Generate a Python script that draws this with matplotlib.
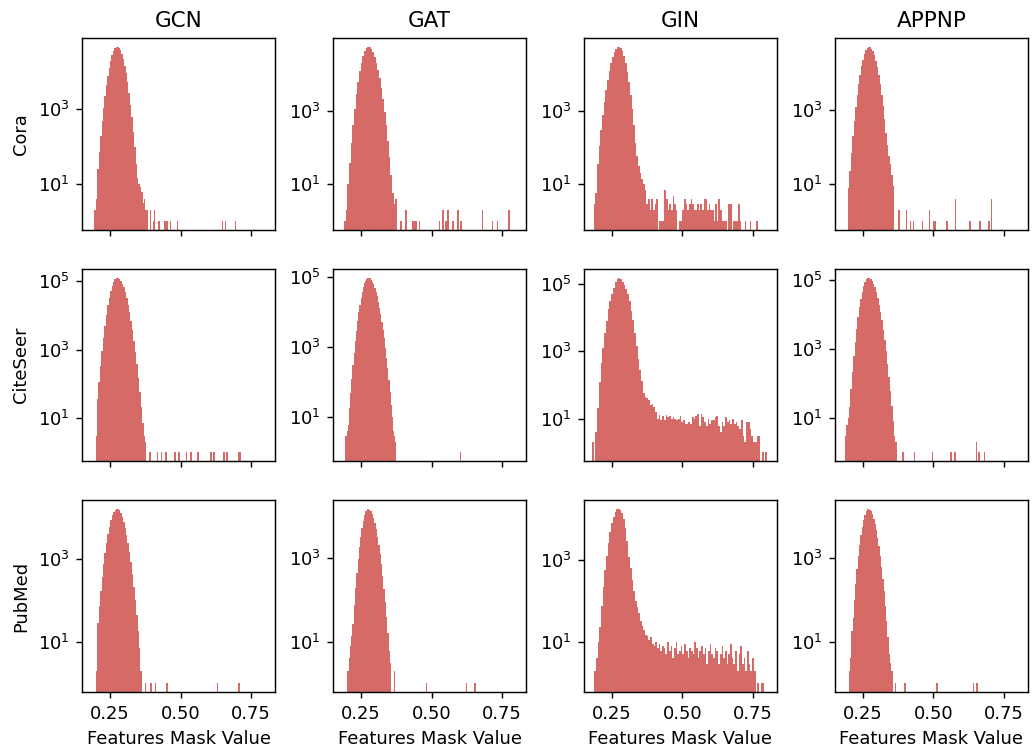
import numpy as np
import matplotlib
matplotlib.use("Agg")
import matplotlib.pyplot as plt
from matplotlib.ticker import NullLocator

models = ["GCN", "GAT", "GIN", "APPNP"]
datasets = ["Cora", "CiteSeer", "PubMed"]
n_bins = 100

# range of the mask values in each panel (rows: datasets, cols: models)
mask_min = [[0.195, 0.190, 0.186, 0.197],
            [0.199, 0.195, 0.1794, 0.186],
            [0.200, 0.2017, 0.187, 0.200]]
mask_max = [[0.697, 0.778, 0.767, 0.709],
            [0.714, 0.606, 0.800, 0.684],
            [0.709, 0.658, 0.789, 0.657]]

# bin counts, main body from bin 0, sparse tail as {bin: count}
cora_gcn = [2, 4, 25, 70, 186, 460, 1050, 2240, 4300, 7600, 12600, 19000, 26600, 34700, 40900,
            45000, 45500, 42500, 36400, 28800, 21100, 14200, 8900, 5100, 2700, 1290, 590, 245, 93,
            33, 14, 10, 8, 6, 3, 4, 2, 2]
cora_gcn_tail = {39: 2, 41: 1, 42: 2, 45: 1, 49: 1, 50: 1, 51: 1, 53: 1, 58: 1, 90: 1, 92: 1, 99: 1}

cora_gat = [1, 2, 10, 39, 135, 420, 1150, 2800, 6100, 11800, 20400, 31300, 42500, 51000, 55000,
            53000, 47300, 38900, 29300, 20300, 12900, 7600, 4150, 2060, 950, 400, 155, 55, 18, 6, 3, 4]
cora_gat_tail = {34: 1, 37: 2, 41: 1, 42: 1, 43: 1, 45: 1, 57: 1, 59: 2, 61: 1, 62: 2, 65: 1,
                 68: 2, 70: 1, 83: 2, 89: 1, 92: 1, 99: 2}

cora_gin = [3, 6, 36, 110, 300, 760, 1740, 3630, 6900, 12300, 19500, 28800, 38900, 47700, 53700,
            55000, 50500, 41500, 30400, 19700, 11400, 5900, 2700, 1100, 400, 130, 60, 32, 20, 14, 10, 7]
cora_gin_tail = {32: 3, 33: 4, 34: 2, 35: 4, 36: 2, 37: 3, 38: 4, 40: 1, 41: 1, 42: 1, 43: 7, 44: 4,
                 45: 2, 46: 3, 47: 2, 48: 5, 49: 3, 50: 2, 52: 1, 53: 1, 54: 2, 55: 4, 56: 3, 57: 2,
                 58: 3, 59: 4, 60: 3, 61: 2, 62: 2, 63: 3, 64: 2, 65: 3, 66: 2, 67: 4, 68: 4, 69: 2,
                 70: 3, 71: 2, 72: 2, 73: 1, 74: 3, 75: 1, 76: 4, 77: 2, 78: 1, 79: 1, 80: 1, 82: 3,
                 83: 3, 85: 1, 86: 1, 87: 1, 88: 3, 89: 1, 92: 1, 95: 1, 99: 1}

cora_appnp = [8, 22, 69, 190, 490, 1150, 2450, 4900, 8700, 14400, 21900, 30400, 38900, 45700, 49000,
              48000, 43700, 36900, 28700, 20600, 13700, 8400, 4800, 2500, 1230, 550, 230, 110, 55, 35,
              18, 9]
cora_appnp_tail = {35: 2, 40: 2, 43: 1, 45: 1, 51: 1, 56: 2, 59: 1, 60: 1, 68: 1, 74: 4, 84: 1,
                   91: 1, 97: 1, 99: 4}

citeseer_gcn = [3, 35, 115, 340, 910, 2240, 5000, 10200, 19300, 33000, 51500, 74000, 96000, 114000,
                125000, 125000, 117000, 102000, 84000, 65000, 47000, 32000, 20500, 12300, 6900, 3650,
                1800, 850, 370, 150, 58, 21, 7, 3, 2]
citeseer_gcn_tail = {37: 1, 42: 1, 45: 1, 48: 1, 54: 1, 57: 1, 62: 1, 65: 1, 70: 1, 79: 1, 81: 1,
                     88: 1, 90: 1, 98: 1, 99: 1}

citeseer_gat = [3, 4, 6, 18, 49, 126, 300, 690, 1480, 2950, 5500, 9800, 16200, 25100, 37000, 50000,
                65000, 78000, 89000, 95000, 95000, 91000, 83000, 73000, 61000, 49500, 38000, 28000,
                19700, 13300, 8600, 5300, 3100, 1770, 950, 500, 245, 117, 54, 23, 10, 4, 3, 2]
citeseer_gat_tail = {99: 1}

citeseer_gin = [2, 0, 4, 20, 125, 450, 1260, 3550, 7900, 17800, 31600, 50000, 76000, 110000, 135000,
                151000, 135000, 115000, 91000, 71000, 50000, 30000, 16000, 8300, 3550, 1400, 590, 280,
                130, 59, 43, 40, 35, 25, 27, 22, 16, 10, 13, 9,
                12, 9, 13, 11, 12, 10, 11, 10, 9, 10, 12, 8, 9, 7, 7, 8, 7, 11, 10, 12, 14, 6, 14, 11,
                8, 6, 10, 7, 9, 9, 11, 12, 6, 4, 8, 6, 11, 8, 9, 7, 10, 7, 8, 6, 5, 9, 3,
                2, 8, 8, 5, 3, 2, 2, 3, 3, 0, 1, 0, 1]
citeseer_gin_tail = {}

citeseer_appnp = [3, 6, 10, 20, 69, 220, 630, 1620, 3900, 8300, 16200, 28600, 45500, 67000, 89000,
                  107000, 117000, 116000, 108000, 95000, 78500, 61000, 44000, 30400, 19300, 11700,
                  6700, 3550, 1780, 850, 375, 155, 60, 22, 8, 3, 2]
citeseer_appnp_tail = {41: 1, 49: 1, 62: 1, 75: 1, 78: 1, 93: 2, 95: 1, 99: 1}

pubmed_gcn = [2, 29, 72, 170, 370, 740, 1410, 2450, 4000, 6000, 8500, 11200, 13600, 15400, 16200,
              15800, 14700, 12700, 10400, 7900, 5700, 3850, 2450, 1470, 830, 435, 215, 100, 45, 18, 7]
pubmed_gcn_tail = {31: 2, 34: 1, 38: 1, 41: 1, 49: 1, 84: 1, 99: 1}

pubmed_gat = [2, 4, 8, 14, 27, 76, 195, 455, 980, 1900, 3300, 5400, 8000, 10800, 13400, 15000, 15500,
              14800, 13400, 11400, 9200, 6900, 4950, 3300, 2100, 1260, 710, 370, 185, 87, 39, 16, 6, 3]
pubmed_gat_tail = {36: 2, 61: 1, 92: 1, 98: 1, 99: 1}

pubmed_gin = [2, 4, 10, 23, 76, 220, 550, 1260, 2570, 4700, 7700, 11200, 14500, 16700, 17400, 16200,
              13800, 10000, 6000, 2800, 1200, 630, 316, 178, 100, 71, 50, 33, 25, 20, 15, 14, 11, 13,
              9, 8, 10, 7, 9, 6, 8, 7, 5, 10, 6, 8, 4, 7, 10, 5, 6, 8, 5, 9, 6, 4, 7, 6, 5, 10, 7, 4,
              6, 8, 5, 7, 3, 6, 9, 5, 4, 7, 6, 3, 5, 8, 4, 6, 3, 5, 9, 4, 3, 6, 2, 5, 8, 3, 4, 2, 6,
              3, 2, 4, 2, 0, 1, 0, 1, 1]
pubmed_gin_tail = {}

pubmed_appnp = [2, 4, 18, 37, 100, 245, 540, 1120, 2100, 3630, 5750, 8300, 11000, 13500, 15100,
                15500, 14800, 13300, 11300, 9000, 6700, 4750, 3150, 1950, 1150, 630, 325, 160, 72, 31,
                13, 5, 3, 2]
pubmed_appnp_tail = {36: 1, 43: 1, 68: 1, 96: 1, 99: 1}

bodies = [[cora_gcn, cora_gat, cora_gin, cora_appnp],
          [citeseer_gcn, citeseer_gat, citeseer_gin, citeseer_appnp],
          [pubmed_gcn, pubmed_gat, pubmed_gin, pubmed_appnp]]
tails = [[cora_gcn_tail, cora_gat_tail, cora_gin_tail, cora_appnp_tail],
         [citeseer_gcn_tail, citeseer_gat_tail, citeseer_gin_tail, citeseer_appnp_tail],
         [pubmed_gcn_tail, pubmed_gat_tail, pubmed_gin_tail, pubmed_appnp_tail]]
row_yticks = [[1e1, 1e3], [1e1, 1e3, 1e5], [1e1, 1e3]]

bar_color = "#d56a67"

fig, axes = plt.subplots(3, 4, figsize=(1032 / 129, 749 / 129), dpi=129, sharex=True)
fig.subplots_adjust(left=0.0795, right=0.9961, top=0.9493, bottom=0.0761, wspace=0.30, hspace=0.203)

for r in range(3):
    for c in range(4):
        ax = axes[r][c]
        counts = np.zeros(n_bins)
        body = bodies[r][c]
        counts[:len(body)] = body
        for b, v in tails[r][c].items():
            counts[b] = v
        edges = np.linspace(mask_min[r][c], mask_max[r][c], n_bins + 1)
        # no antialiasing so neighbouring bars join without seams
        ax.bar(edges[:-1], counts, width=np.diff(edges), align="edge",
               color=bar_color, linewidth=0, antialiased=False, log=True)
        ax.set_yticks(row_yticks[r])
        ax.yaxis.set_minor_locator(NullLocator())
        if r == 0:
            ax.set_title(models[c])
        if c == 0:
            ax.set_ylabel(datasets[r])
        if r == 2:
            ax.set_xlabel("Features Mask Value")

axes[0][0].set_xlim(0.151, 0.835)
axes[0][0].set_xticks([0.25, 0.50, 0.75])

fig.savefig("out.png", dpi=129)
